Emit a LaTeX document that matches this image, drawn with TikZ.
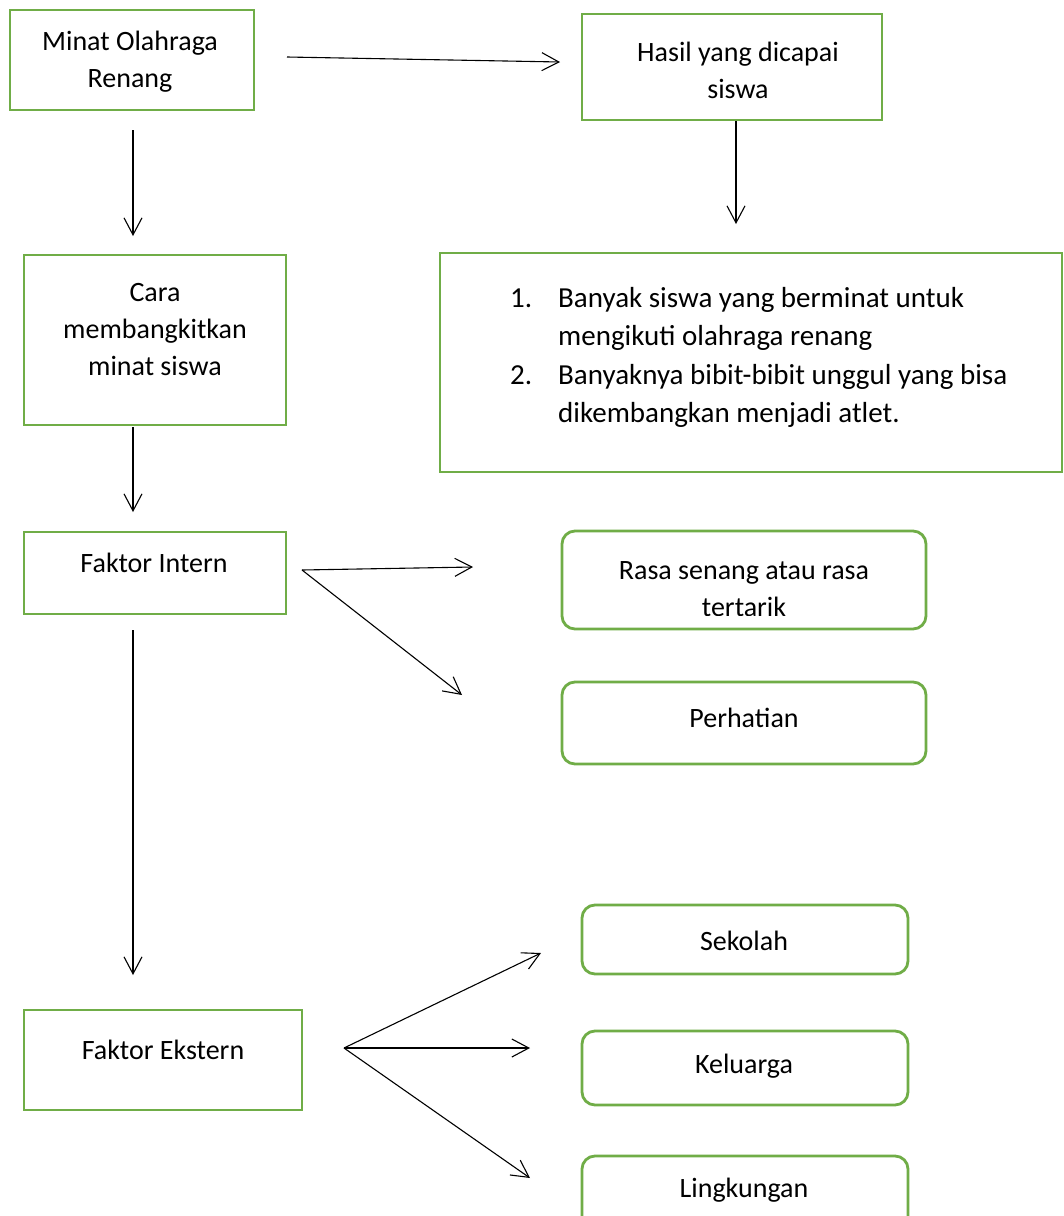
\documentclass[tikz,border=0pt]{standalone}
\usepackage{fontspec}
\setmainfont{Carlito}
\usetikzlibrary{arrows.meta}
\definecolor{boxgreen}{HTML}{70AD47}
\begin{document}
\begin{tikzpicture}[x=1pt,y=-1pt,
  gbox/.style={draw=boxgreen,line width=2.8pt,inner sep=0pt},
  rbox/.style={draw=boxgreen,line width=2.8pt,rounded corners=13pt},
  txt/.style={font=\fontsize{28}{37}\selectfont,align=center,inner sep=0pt},
  conn/.style={line width=1.1pt,-{Straight Barb[length=17pt,width=18pt,line width=1.1pt]}}]
\useasboundingbox (0,0) rectangle (1064,1216);
\fill[white] (0,0) rectangle (1064,1216);

% boxes
\node[gbox,minimum width=244pt,minimum height=100pt] (A) at (132,60) {};
\node[txt] (At) at (130,62) {Minat Olahraga\\Renang};

\node[gbox,minimum width=300pt,minimum height=106pt] (B) at (732,67) {};
\node[txt] (Bt) at (738,70) {Hasil yang dicapai\\siswa};

\node[gbox,minimum width=622pt,minimum height=219pt] (C) at (751,362.5) {};
\node[txt,anchor=base west,align=left,font=\fontsize{29}{38.5}\selectfont] (Ct) at (510,307)
  {\begin{tabular}[t]{@{}p{48pt}@{}l@{}}
   1. & Banyak siswa yang berminat untuk\\
      & mengikuti olahraga renang\\
   2. & Banyaknya bibit-bibit unggul yang bisa\\
      & dikembangkan menjadi atlet.
   \end{tabular}};

\node[gbox,minimum width=262pt,minimum height=170pt] (D) at (155,340) {};
\node[txt] (Dt) at (155,330) {Cara\\membangkitkan\\minat siswa};

\node[gbox,minimum width=262pt,minimum height=82pt] (E) at (155,573) {};
\node[txt] (Et) at (154,563) {Faktor Intern};

\draw[rbox] (562,531) rectangle (926,629);
\node[inner sep=0pt,minimum width=364pt,minimum height=98pt] (F) at (744,580) {};
\begin{scope}
\clip (562,531) rectangle (926,615);
\node[txt] (Ft) at (744,589) {Rasa senang atau rasa\\tertarik};
\end{scope}

\draw[rbox] (562,682) rectangle (926,764);
\node[txt] (G) at (744,718) {Perhatian};

\node[gbox,minimum width=278pt,minimum height=100pt] (H) at (163,1060) {};
\node[txt] (Ht) at (163,1050) {Faktor Ekstern};

\draw[rbox] (582,905) rectangle (908,974);
\node[txt] (I) at (744,941) {Sekolah};
\draw[rbox] (582,1031) rectangle (908,1105);
\node[txt] (J) at (744,1066) {Keluarga};
\draw[rbox] (582,1156) rectangle (908,1240);
\node[txt] (K) at (744,1190) {Lingkungan};

% connector end points
\coordinate (ab1) at (287,57);
\coordinate (ab2) at (560,62);
\coordinate (bc1) at (736,121);
\coordinate (bc2) at (736,224);
\coordinate (ad1) at (133,130);
\coordinate (ad2) at (133,236);
\coordinate (de1) at (133,427);
\coordinate (de2) at (133,512);
\coordinate (eh1) at (133,630);
\coordinate (eh2) at (133,975);
\coordinate (eo) at (302,570);
\coordinate (ef) at (473,567);
\coordinate (eg) at (462,695);
\coordinate (ho) at (344,1048);
\coordinate (hi) at (541,953);
\coordinate (hj) at (530,1048);
\coordinate (hk) at (530,1178);

\draw[conn] (ab1) -- (ab2);
\draw[conn] (bc1) -- (bc2);
\draw[conn] (ad1) -- (ad2);
\draw[conn] (de1) -- (de2);
\draw[conn] (eh1) -- (eh2);
\draw[conn] (eo) -- (ef);
\draw[conn] (eo) -- (eg);
\draw[conn] (ho) -- (hi);
\draw[conn] (ho) -- (hj);
\draw[conn] (ho) -- (hk);
\end{tikzpicture}
\end{document}
